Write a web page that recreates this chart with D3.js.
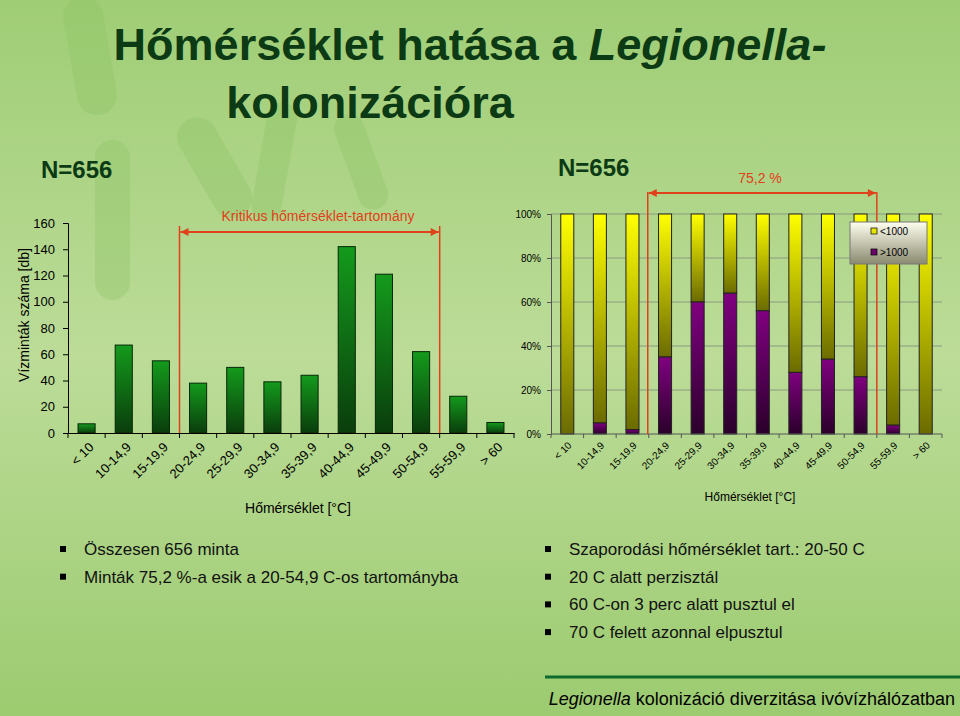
<!DOCTYPE html>
<html><head><meta charset="utf-8">
<script src="https://cdn.jsdelivr.net/npm/d3@7"></script>
<style>body{margin:0;overflow:hidden}svg{display:block;font-family:Arial,"Liberation Sans",sans-serif}</style>
</head><body><svg id="c" width="960" height="716"></svg>
<script>
const categories=["< 10","10-14,9","15-19,9","20-24,9","25-29,9","30-34,9","35-39,9","40-44,9","45-49,9","50-54,9","55-59,9","> 60"];
const counts=[7,67,55,38,50,39,44,142,121,62,28,8];
const over1000Pct=[0,5,2,35,60,64,56,28,34,26,4,0];
const leftTicks=[0,20,40,60,80,100,120,140,160];
const rightTicks=[0,20,40,60,80,100];
const bulletsLeft=["Összesen 656 minta","Minták 75,2 %-a esik a 20-54,9 C-os tartományba"];
const bulletsRight=["Szaporodási hőmérséklet tart.: 20-50 C","20 C alatt perzisztál","60 C-on 3 perc alatt pusztul el","70 C felett azonnal elpusztul"];

const svg=d3.select("#c");
const defs=svg.append("defs");
const bg=defs.append("linearGradient").attr("id","bg").attr("x1",0).attr("y1",0).attr("x2",0).attr("y2",1);
bg.append("stop").attr("offset","0").attr("stop-color","#9fcd75");
bg.append("stop").attr("offset","0.5").attr("stop-color","#bcdc98");
bg.append("stop").attr("offset","1").attr("stop-color","#9ccb70");
function vg(id,a,b){const g=defs.append("linearGradient").attr("id",id).attr("x1",0).attr("y1",0).attr("x2",0).attr("y2",1);
 g.append("stop").attr("offset",0).attr("stop-color",a);g.append("stop").attr("offset",1).attr("stop-color",b);}
vg("gGreen","#149a1c","#0a3d0c");vg("gYel","#ffff00","#6b6b00");vg("gPur","#800080","#2a002a");vg("gLeg","#fffff0","#8a8a70");
svg.append("rect").attr("width",960).attr("height",716).attr("fill","url(#bg)");
[[60,0,40,120,-10],[95,140,35,160,0],[170,130,40,110,-30],[270,100,30,120,10],[330,120,30,100,-20]].forEach(r=>{
 svg.append("rect").attr("x",r[0]).attr("y",r[1]).attr("width",r[2]).attr("height",r[3]).attr("rx",r[2]/2)
 .attr("fill","#8cc463").attr("opacity",0.35).attr("transform",`rotate(${r[4]},${r[0]},${r[1]})`);});

const dark="#0b3a14", red="#e0401a";
const t1=svg.append("text").attr("x",470).attr("y",60).attr("text-anchor","middle").attr("font-size",45).attr("font-weight","bold").attr("fill",dark);
t1.append("tspan").text("Hőmérséklet hatása a ");
t1.append("tspan").attr("font-style","italic").text("Legionella-");
svg.append("text").attr("x",370).attr("y",118).attr("text-anchor","middle").attr("font-size",45).attr("font-weight","bold").attr("fill",dark).text("kolonizációra");
svg.append("text").attr("x",41).attr("y",178).attr("font-size",24).attr("font-weight","bold").attr("fill",dark).text("N=656");
svg.append("text").attr("x",558).attr("y",176).attr("font-size",24).attr("font-weight","bold").attr("fill",dark).text("N=656");

// arrow markers
defs.append("marker").attr("id","ah").attr("viewBox","0 0 10 10").attr("refX",10).attr("refY",5).attr("markerWidth",5).attr("markerHeight",4).attr("orient","auto-start-reverse")
 .append("path").attr("d","M0,0L10,5L0,10Z").attr("fill",red);

// LEFT CHART
const xL=d3.scaleBand().domain(categories).range([68,514]).paddingInner(0.54).paddingOuter(0.27);
const yL=d3.scaleLinear().domain([0,160]).range([433,223]);
const gl=svg.append("g");
gl.selectAll("rect.b").data(counts).join("rect").attr("x",(d,i)=>xL(categories[i])).attr("width",xL.bandwidth())
 .attr("y",d=>yL(d)).attr("height",d=>yL(0)-yL(d)).attr("fill","url(#gGreen)").attr("stroke","#062806").attr("stroke-width",1);
const ax=gl.append("g").attr("transform","translate(0,433)").call(d3.axisBottom(xL).tickSize(0).tickFormat(""));
ax.select(".domain").attr("stroke","#000");
const step=(514-68)/12;
gl.selectAll("line.tk").data(d3.range(13)).join("line").attr("x1",i=>68+i*step).attr("x2",i=>68+i*step).attr("y1",433).attr("y2",438).attr("stroke","#000");
gl.selectAll("text.xl").data(categories).join("text").attr("font-size",13).attr("fill","#000").attr("text-anchor","end")
 .attr("transform",d=>`translate(${xL(d)+xL.bandwidth()/2+8},${448}) rotate(-45)`).text(d=>d);
const ay=gl.append("g").attr("transform","translate(68,0)").call(d3.axisLeft(yL).tickValues(leftTicks).tickSize(5).tickPadding(8));
ay.selectAll("text").attr("font-size",13).attr("fill","#000");ay.selectAll("line,path").attr("stroke","#000");
gl.append("text").attr("transform","translate(29,315) rotate(-90)").attr("text-anchor","middle").attr("font-size",14).text("Vízminták száma [db]");
gl.append("text").attr("x",298).attr("y",513).attr("text-anchor","middle").attr("font-size",14).text("Hőmérséklet [°C]");
const rx1=(xL(categories[2])+xL(categories[3])+xL.bandwidth())/2, rx2=(xL(categories[9])+xL(categories[10])+xL.bandwidth())/2;
[rx1,rx2].forEach(x=>gl.append("line").attr("x1",x).attr("x2",x).attr("y1",226).attr("y2",433).attr("stroke",red).attr("stroke-width",1.5));
gl.append("line").attr("x1",rx1+1).attr("x2",rx2-1).attr("y1",232).attr("y2",232).attr("stroke",red).attr("stroke-width",2)
 .attr("marker-start","url(#ah)").attr("marker-end","url(#ah)");
gl.append("text").attr("x",318).attr("y",221).attr("text-anchor","middle").attr("font-size",14).attr("fill",red).text("Kritikus hőmérséklet-tartomány");

// RIGHT CHART
const xR=d3.scaleBand().domain(categories).range([551,942]).paddingInner(0.6).paddingOuter(0.3);
const yR=d3.scaleLinear().domain([0,100]).range([434,214]);
const gr=svg.append("g");
gr.selectAll("line.g").data(rightTicks.slice(1)).join("line").attr("x1",551).attr("x2",942).attr("y1",d=>yR(d)).attr("y2",d=>yR(d)).attr("stroke","#8a9a80").attr("stroke-width",1);
gr.selectAll("rect.y").data(over1000Pct).join("rect").attr("x",(d,i)=>xR(categories[i])).attr("width",xR.bandwidth())
 .attr("y",yR(100)).attr("height",d=>yR(d)-yR(100)).attr("fill","url(#gYel)").attr("stroke","#222").attr("stroke-width",1);
gr.selectAll("rect.p").data(over1000Pct).join("rect").attr("x",(d,i)=>xR(categories[i])).attr("width",xR.bandwidth())
 .attr("y",d=>yR(d)).attr("height",d=>yR(0)-yR(d)).attr("fill","url(#gPur)").attr("stroke","#222").attr("stroke-width",1);
const ayR=gr.append("g").attr("transform","translate(551,0)").call(d3.axisLeft(yR).tickValues(rightTicks).tickSize(4).tickPadding(6).tickFormat(d=>d+"%"));
ayR.selectAll("text").attr("font-size",10).attr("fill","#000");ayR.selectAll("line,path").attr("stroke","#555");
gr.append("line").attr("x1",551).attr("x2",942).attr("y1",434).attr("y2",434).attr("stroke","#555");
const stepR=(942-551)/12;
gr.selectAll("line.tk").data(d3.range(13)).join("line").attr("x1",i=>551+i*stepR).attr("x2",i=>551+i*stepR).attr("y1",434).attr("y2",438).attr("stroke","#555");
gr.selectAll("text.xl").data(categories).join("text").attr("font-size",10).attr("fill","#000").attr("text-anchor","end")
 .attr("transform",d=>`translate(${xR(d)+xR.bandwidth()/2+5},${446}) rotate(-45)`).text(d=>d);
gr.append("text").attr("x",750).attr("y",501).attr("text-anchor","middle").attr("font-size",12).text("Hőmérséklet [°C]");
const r1=551+3*stepR-1, r2=551+10*stepR;
[r1,r2].forEach(x=>gr.append("line").attr("x1",x).attr("x2",x).attr("y1",192).attr("y2",434).attr("stroke",red).attr("stroke-width",1.5));
gr.append("line").attr("x1",r1+1).attr("x2",r2-1).attr("y1",193).attr("y2",193).attr("stroke",red).attr("stroke-width",2)
 .attr("marker-start","url(#ah)").attr("marker-end","url(#ah)");
gr.append("text").attr("x",760).attr("y",183).attr("text-anchor","middle").attr("font-size",14).attr("fill",red).text("75,2 %");
// legend
gr.append("rect").attr("x",850).attr("y",222).attr("width",77).attr("height",42).attr("fill","url(#gLeg)").attr("stroke","#777");
[["url(#gYel)","<1000",232],["url(#gPur)",">1000",253]].forEach(([f,t,y])=>{
 gr.append("rect").attr("x",871).attr("y",y-4).attr("width",6).attr("height",6).attr("fill",f==="url(#gYel)"?"#e6e600":"#6a006a").attr("stroke","#000").attr("stroke-width",0.7);
 gr.append("text").attr("x",880).attr("y",y+3).attr("font-size",10).text(t);});

// bullets
function bullets(list,x,y0){list.forEach((t,i)=>{const y=y0+i*27.7;
 svg.append("rect").attr("x",x).attr("y",y-9).attr("width",6).attr("height",6).attr("fill","#000");
 svg.append("text").attr("x",x+24).attr("y",y).attr("font-size",17).attr("fill","#111").text(t);});}
bullets(bulletsLeft,60,555);
bullets(bulletsRight,545,555);

// footer
svg.append("line").attr("x1",545).attr("x2",960).attr("y1",677).attr("y2",677).attr("stroke","#0e6a2c").attr("stroke-width",3);
const ft=svg.append("text").attr("x",955).attr("y",705).attr("text-anchor","end").attr("font-size",18).attr("fill","#000");
ft.append("tspan").attr("font-style","italic").text("Legionella");
ft.append("tspan").text(" kolonizáció diverzitása ivóvízhálózatban");
</script></body></html>
